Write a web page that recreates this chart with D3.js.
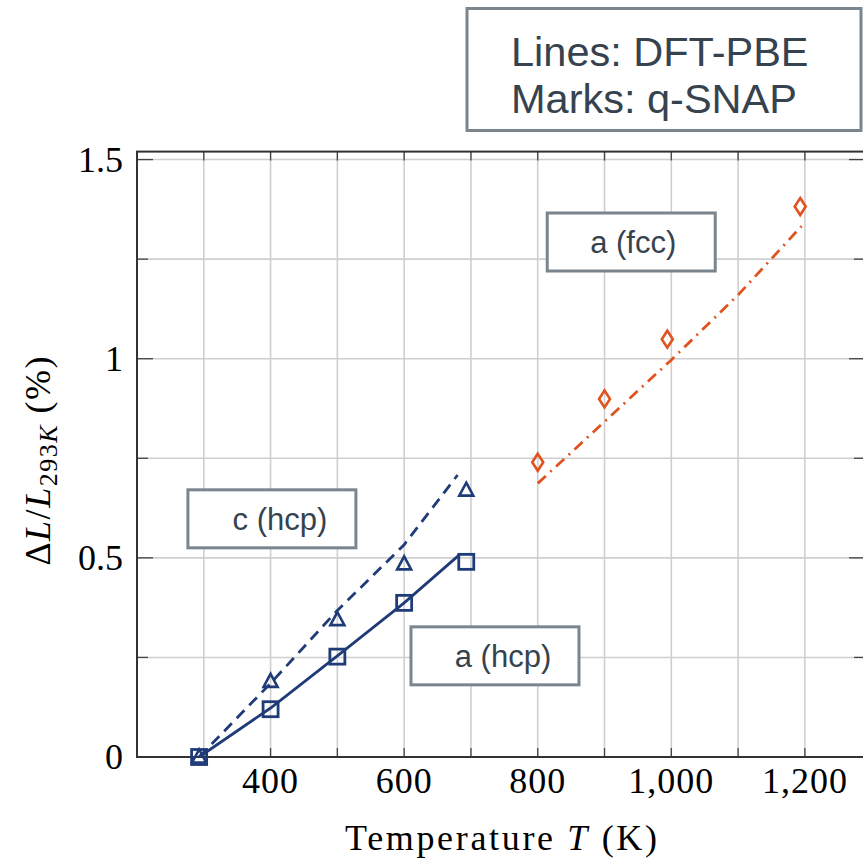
<!DOCTYPE html>
<html>
<head>
<meta charset="utf-8">
<script src="https://cdn.jsdelivr.net/npm/d3@7"></script>
<style>
  body { margin: 0; background: #fff; }
  svg { display: block; }
</style>
</head>
<body>
<div id="grafico"></div>
<script>
// Datos

// q-SNAP (marcas)
const tempHcp = [293, 400, 500, 600, 693];
const aHcpSnap = [0, 0.12, 0.252, 0.387, 0.49];
const cHcpSnap = [0, 0.19, 0.345, 0.485, 0.67];
const tempFcc = [800, 900, 994, 1193];
const aFccSnap = [0.74, 0.899, 1.049, 1.382];

// DFT-PBE (lineas)
const tempHcpDft = [293, 400, 500, 600, 683];
const aHcpDft = [0, 0.123, 0.254, 0.387, 0.508];
const tempCDft = [293, 400, 500, 600, 680];
const cHcpDft = [0, 0.185, 0.368, 0.533, 0.708];
const tempFccDft = [800, 900, 1000, 1100, 1195];
const aFccDft = [0.687, 0.842, 0.997, 1.16, 1.333];

// Ejes
const xTicks = [400, 600, 800, 1000, 1200];
const xTickLabels = ["400", "600", "800", "1,000", "1,200"];
const xGrid = [300, 400, 500, 600, 700, 800, 900, 1000, 1100, 1200];
const yTicks = [0, 0.5, 1, 1.5];
const yTickLabels = ["0", "0.5", "1", "1.5"];
const yGrid = [0, 0.25, 0.5, 0.75, 1, 1.25, 1.5];

// Cajas de texto
const etiquetas = ["c (hcp)", "a (hcp)", "a (fcc)"];
const etiquetasT = [402, 736, 940];
const etiquetasV = [0.598, 0.254, 1.293];

const width = 863, height = 860;
const azul = "#1f3b78", naranja = "#e0531f";
const gris = "#7b858e", texto = "#36434f";

const svg = d3.select("#grafico").append("svg")
  .attr("width", width).attr("height", height);

// Escalas
const x = d3.scaleLinear().domain([200, 1290]).range([137, 865]);
const y = d3.scaleLinear().domain([0, 1.52]).range([757, 151.6]);
const x0 = x.range()[0], x1 = x.range()[1];
const y0 = y.range()[0], y1 = y.range()[1];

// Rejilla
svg.append("g").selectAll("line").data(xGrid).join("line")
  .attr("x1", d => x(d)).attr("x2", d => x(d))
  .attr("y1", y0).attr("y2", y1)
  .attr("stroke", "#cfcfcf").attr("stroke-width", 1.6);
svg.append("g").selectAll("line").data(yGrid).join("line")
  .attr("x1", x0).attr("x2", x1)
  .attr("y1", d => y(d)).attr("y2", d => y(d))
  .attr("stroke", "#cfcfcf").attr("stroke-width", 1.6);

// Ticks hacia dentro
const ticks = svg.append("g").attr("stroke", "#444").attr("stroke-width", 1.3);
xGrid.forEach(d => {
  ticks.append("line").attr("x1", x(d)).attr("x2", x(d)).attr("y1", y0).attr("y2", y0 - 9);
  ticks.append("line").attr("x1", x(d)).attr("x2", x(d)).attr("y1", y1).attr("y2", y1 + 9);
});
yGrid.forEach(d => {
  const len = yTicks.includes(d) ? 16 : 11;
  ticks.append("line").attr("x1", x0).attr("x2", x0 + len).attr("y1", y(d)).attr("y2", y(d));
  ticks.append("line").attr("x1", x1).attr("x2", x1 - len).attr("y1", y(d)).attr("y2", y(d));
});

// Marco
svg.append("rect")
  .attr("x", x0).attr("y", y1)
  .attr("width", x1 - x0).attr("height", y0 - y1)
  .attr("fill", "none").attr("stroke", "#333").attr("stroke-width", 2);

// Etiquetas de ejes
const serif = "'Liberation Serif', 'DejaVu Serif', serif";
svg.append("g").selectAll("text").data(xTicks).join("text")
  .attr("x", d => x(d)).attr("y", 793)
  .attr("text-anchor", "middle")
  .attr("font-family", serif).attr("font-size", 36)
  .attr("letter-spacing", 1)
  .text((d, i) => xTickLabels[i]);
svg.append("g").selectAll("text").data(yTicks).join("text")
  .attr("x", 123).attr("y", d => y(d) + 12)
  .attr("text-anchor", "end")
  .attr("font-family", serif).attr("font-size", 36)
  .text((d, i) => yTickLabels[i]);

const tx = svg.append("text")
  .attr("x", (x0 + x1) / 2).attr("y", 850)
  .attr("text-anchor", "middle")
  .attr("font-family", serif).attr("font-size", 36)
  .attr("textLength", 312).attr("lengthAdjust", "spacing");
tx.append("tspan").text("Temperature ");
tx.append("tspan").attr("font-style", "italic").text("T");
tx.append("tspan").text(" (K)");

const ty = svg.append("text")
  .attr("transform", `translate(50, ${(y0 + y1) / 2 + 6}) rotate(-90)`)
  .attr("text-anchor", "middle")
  .attr("font-family", serif).attr("font-size", 36)
  .attr("letter-spacing", 1.5);
ty.append("tspan").text("Δ");
ty.append("tspan").attr("font-style", "italic").text("L");
ty.append("tspan").text("/");
ty.append("tspan").attr("font-style", "italic").text("L");
ty.append("tspan").attr("font-size", 26).attr("dy", 7).text("293");
ty.append("tspan").attr("font-size", 26).attr("font-style", "italic").text("K");
ty.append("tspan").attr("dy", -7).text("  (%)");

// Lineas DFT
const linea = d3.line().x(d => x(d[0])).y(d => y(d[1]));
svg.append("path").datum(d3.zip(tempHcpDft, aHcpDft))
  .attr("d", linea).attr("fill", "none")
  .attr("stroke", azul).attr("stroke-width", 2.8);
svg.append("path").datum(d3.zip(tempCDft, cHcpDft))
  .attr("d", linea).attr("fill", "none")
  .attr("stroke", azul).attr("stroke-width", 2.8)
  .attr("stroke-dasharray", "11,7");
svg.append("path").datum(d3.zip(tempFccDft, aFccDft))
  .attr("d", linea).attr("fill", "none")
  .attr("stroke", naranja).attr("stroke-width", 2.8)
  .attr("stroke-dasharray", "11,6,2,6");

// Marcas q-SNAP
svg.append("g").selectAll("rect").data(d3.zip(tempHcp, aHcpSnap)).join("rect")
  .attr("x", d => x(d[0]) - 7.5).attr("y", d => y(d[1]) - 7.5)
  .attr("width", 15).attr("height", 15)
  .attr("fill", "none").attr("stroke", azul).attr("stroke-width", 2.8);
svg.append("g").selectAll("path").data(d3.zip(tempHcp, cHcpSnap)).join("path")
  .attr("transform", d => `translate(${x(d[0])}, ${y(d[1])})`)
  .attr("d", "M0,-7.5 L7,5.5 L-7,5.5 Z")
  .attr("fill", "none").attr("stroke", azul).attr("stroke-width", 2.6);
svg.append("g").selectAll("path").data(d3.zip(tempFcc, aFccSnap)).join("path")
  .attr("transform", d => `translate(${x(d[0])}, ${y(d[1])})`)
  .attr("d", "M0,-8.5 L5.5,0 L0,8.5 L-5.5,0 Z")
  .attr("fill", "none").attr("stroke", naranja).attr("stroke-width", 2.6);

// Cajas de texto
const sans = "'Liberation Sans', Arial, sans-serif";
const desplaza = [8, 8, 2];
etiquetas.forEach((t, i) => {
  const cx = x(etiquetasT[i]), cy = y(etiquetasV[i]);
  svg.append("rect")
    .attr("x", cx - 84).attr("y", cy - 29)
    .attr("width", 168).attr("height", 58)
    .attr("fill", "#fff").attr("stroke", gris).attr("stroke-width", 3);
  svg.append("text")
    .attr("x", cx + desplaza[i]).attr("y", cy + 11)
    .attr("text-anchor", "middle")
    .attr("font-family", sans).attr("font-size", 31)
    .attr("fill", texto).text(t);
});

// Leyenda
svg.append("rect")
  .attr("x", 467).attr("y", 8.5)
  .attr("width", 394).attr("height", 122)
  .attr("fill", "#fff").attr("stroke", gris).attr("stroke-width", 3);
svg.append("text").attr("x", 511).attr("y", 66)
  .attr("font-family", sans).attr("font-size", 41.5)
  .attr("fill", texto).text("Lines: DFT-PBE");
svg.append("text").attr("x", 511).attr("y", 113)
  .attr("font-family", sans).attr("font-size", 41.5)
  .attr("fill", texto).text("Marks: q-SNAP");
</script>
</body>
</html>
